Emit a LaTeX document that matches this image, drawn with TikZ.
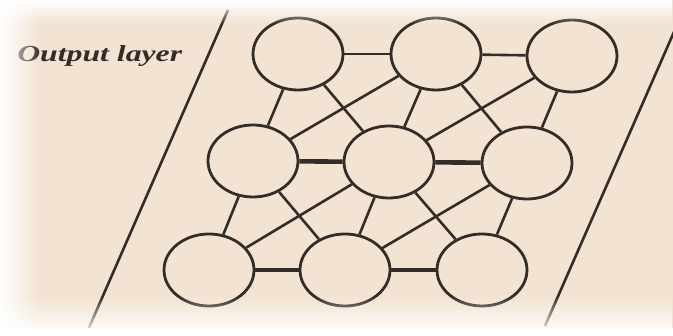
\documentclass[tikz,border=0pt]{standalone}
\usepackage{fontspec}
\setmainfont{Liberation Serif}
\usetikzlibrary{shapes.geometric,fadings}
\definecolor{bgbeige}{RGB}{243,227,210}
\definecolor{ink}{RGB}{50,45,40}
\tikzfading[name=fadeR, left color=transparent!0, right color=transparent!100]
\tikzfading[name=fadeD, top color=transparent!0, bottom color=transparent!100]
\tikzfading[name=fadeU, bottom color=transparent!0, top color=transparent!100]
\tikzset{
  neuron/.style={ellipse, draw=ink, line width=2.8pt, fill=bgbeige, minimum width=90pt, minimum height=72pt, inner sep=0pt},
  link/.style={draw=ink, line width=2.6pt},
  linkthick/.style={draw=ink, line width=4.6pt},
  linkmid/.style={draw=ink, line width=4pt},
  border/.style={draw=ink, line width=2.6pt}
}
\begin{document}
\begin{tikzpicture}[x=1pt,y=-1pt]
\useasboundingbox (0,0) rectangle (673,336);
\begin{scope}
\clip (0,0) rectangle (673,336);
\fill[bgbeige] (0,0) rectangle (673,336);
% parallelogram sides
\coordinate (l1) at (228,10);
\coordinate (l2) at (88,330);
\coordinate (r1) at (688,0);
\coordinate (r2) at (545,326);
\draw[border] (l1) -- (l2);
\draw[border] (r1) -- (r2);
% label
\node[anchor=base west, inner sep=0pt, text=ink, xscale=1.38] (lbl) at (17,62) {\fontsize{23}{25}\selectfont\bfseries\itshape Output layer};
% neurons
\coordinate (pTL) at (298,54);
\coordinate (pTM) at (436,54);
\coordinate (pTR) at (572,56);
\coordinate (pML) at (253,161);
\coordinate (pMC) at (389,162);
\coordinate (pMR) at (527,163);
\coordinate (pBL) at (209,270);
\coordinate (pBM) at (345,270);
\coordinate (pBR) at (482,270);
\node[neuron] (TL) at (pTL) {};
\node[neuron] (TM) at (pTM) {};
\node[neuron] (TR) at (pTR) {};
\node[neuron] (ML) at (pML) {};
\node[neuron] (MC) at (pMC) {};
\node[neuron] (MR) at (pMR) {};
\node[neuron] (BL) at (pBL) {};
\node[neuron] (BM) at (pBM) {};
\node[neuron] (BR) at (pBR) {};
% connectors
\draw[link] (TL) -- (TM);
\draw[link] (TM) -- (TR);
\draw[linkthick] (ML) -- (MC);
\draw[linkthick] (MC) -- (MR);
\draw[linkmid] (BL) -- (BM);
\draw[linkmid] (BM) -- (BR);
\draw[link] (TL) -- (ML);
\draw[link] (TM) -- (MC);
\draw[link] (TR) -- (MR);
\draw[link] (ML) -- (BL);
\draw[link] (MC) -- (BM);
\draw[link] (MR) -- (BR);
\draw[link] (TL) -- (MC);
\draw[link] (TM) -- (ML);
\draw[link] (TM) -- (MR);
\draw[link] (TR) -- (MC);
\draw[link] (ML) -- (BM);
\draw[link] (MC) -- (BL);
\draw[link] (MC) -- (BR);
\draw[link] (MR) -- (BM);
% fading edges
\fill[white, path fading=fadeR] (0,0) rectangle (40,336);
\fill[white, path fading=fadeD] (0,0) rectangle (673,24);
\fill[white, path fading=fadeU] (0,296) rectangle (673,336);
\fill[white] (0,328) rectangle (673,336);
\end{scope}
\end{tikzpicture}
\end{document}
